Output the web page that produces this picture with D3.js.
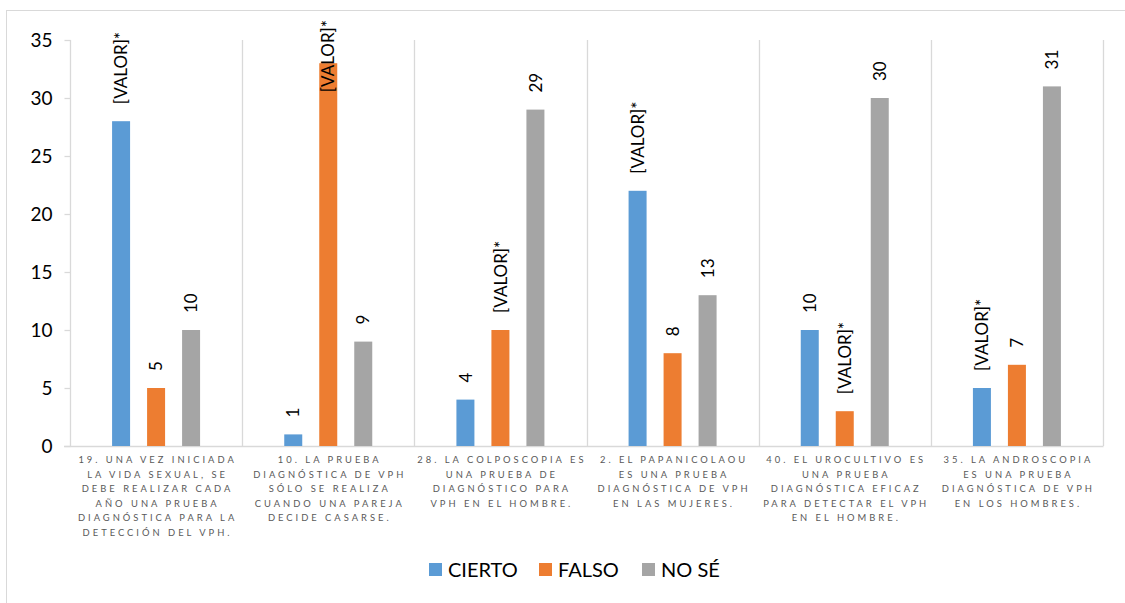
<!DOCTYPE html>
<html>
<head>
<meta charset="utf-8">
<script src="https://cdn.jsdelivr.net/npm/d3@7"></script>
<style>
  html, body { margin: 0; padding: 0; background: #fff; }
  svg { display: block; font-family: "Lato", "Noto Sans", sans-serif; }
</style>
</head>
<body>
<svg id="chart" width="1125" height="603"></svg>
<script>
// ---- DATA ----
const categories = [
  "19. UNA VEZ INICIADA\nLA VIDA SEXUAL, SE\nDEBE REALIZAR CADA\nAÑO UNA PRUEBA\nDIAGNÓSTICA PARA LA\nDETECCIÓN DEL VPH.",
  "10. LA PRUEBA\nDIAGNÓSTICA DE VPH\nSÓLO SE REALIZA\nCUANDO UNA PAREJA\nDECIDE CASARSE.",
  "28. LA COLPOSCOPIA ES\nUNA PRUEBA DE\nDIAGNÓSTICO PARA\nVPH EN EL HOMBRE.",
  "2. EL PAPANICOLAOU\nES UNA PRUEBA\nDIAGNÓSTICA DE VPH\nEN LAS MUJERES.",
  "40. EL UROCULTIVO ES\nUNA PRUEBA\nDIAGNÓSTICA EFICAZ\nPARA DETECTAR EL VPH\nEN EL HOMBRE.",
  "35. LA ANDROSCOPIA\nES UNA PRUEBA\nDIAGNÓSTICA DE VPH\nEN LOS HOMBRES."
];
const seriesNames = ["CIERTO", "FALSO", "NO SÉ"];
const cierto = [28, 1, 4, 22, 10, 5];
const falso  = [5, 33, 10, 8, 3, 7];
const noSe   = [10, 9, 29, 13, 30, 31];
// label text for each series value ("[VALOR]*" marks the correct answer)
const ciertoLabels = ["[VALOR]*", "1", "4", "[VALOR]*", "10", "[VALOR]*"];
const falsoLabels  = ["5", "[VALOR]*", "[VALOR]*", "8", "[VALOR]*", "7"];
const noSeLabels   = ["10", "9", "29", "13", "30", "31"];
const yTicks = [0, 5, 10, 15, 20, 25, 30, 35];
const colors = ["#5B9BD5", "#ED7D31", "#A5A5A5"];

const seriesValues = [cierto, falso, noSe];
const seriesLabels = [ciertoLabels, falsoLabels, noSeLabels];

// ---- LAYOUT ----
const svg = d3.select("#chart");
const plot = { left: 70, right: 1103, top: 40, bottom: 446 };
const grid = "#D9D9D9";

// chart border
svg.append("rect")
  .attr("x", 6.5).attr("y", 10.5)
  .attr("width", 1130).attr("height", 610)
  .attr("fill", "none").attr("stroke", grid).attr("stroke-width", 1);

const x0 = d3.scaleBand().domain(d3.range(categories.length))
  .range([plot.left, plot.right]).padding(0);
const x1 = d3.scalePoint().domain(seriesNames).range([-35, 35]);
const y = d3.scaleLinear().domain([0, 35]).range([plot.bottom, plot.top]);
const barW = 18;

// vertical separators
const seps = d3.range(categories.length + 1).map(i =>
  i < categories.length ? x0(i) : x0(categories.length - 1) + x0.bandwidth());
svg.append("g").selectAll("line").data(seps).join("line")
  .attr("x1", d => Math.round(d) + 0.5).attr("x2", d => Math.round(d) + 0.5)
  .attr("y1", plot.top).attr("y2", plot.bottom)
  .attr("stroke", grid).attr("stroke-width", 1.3);

// y axis
const yAxis = svg.append("g").attr("transform", `translate(${plot.left + 0.5},0)`)
  .call(d3.axisLeft(y).tickValues(yTicks).tickSize(6).tickPadding(12));
yAxis.select(".domain").remove();
yAxis.selectAll(".tick line").attr("stroke", grid).attr("stroke-width", 1.3);
yAxis.selectAll(".tick text")
  .attr("font-family", "Lato, 'Noto Sans', sans-serif")
  .attr("font-size", 19).attr("fill", "#000");

// baseline
svg.append("line")
  .attr("x1", plot.left - 6).attr("x2", plot.right + 0.5)
  .attr("y1", plot.bottom + 0.5).attr("y2", plot.bottom + 0.5)
  .attr("stroke", grid).attr("stroke-width", 1.3);

// bars
const barData = [];
seriesNames.forEach((s, si) => {
  seriesValues[si].forEach((v, ci) => {
    barData.push({ s, si, ci, v, label: seriesLabels[si][ci] });
  });
});

svg.append("g").selectAll("rect").data(barData).join("rect")
  .attr("x", d => x0(d.ci) + x0.bandwidth() / 2 + x1(d.s) - barW / 2)
  .attr("y", d => y(d.v))
  .attr("width", barW)
  .attr("height", d => y(0) - y(d.v))
  .attr("fill", d => colors[d.si]);

// data labels (rotated)
const lblG = svg.append("g");
barData.forEach(d => {
  const cx = x0(d.ci) + x0.bandwidth() / 2 + x1(d.s);
  const g = lblG.append("g");
  const t = g.append("text")
    .attr("font-size", 17)
    .attr("fill", "#000")
    .attr("text-anchor", "start")
    .attr("dy", "0.36em")
    .text(d.label);
  const len = t.node().getComputedTextLength();
  let start = y(d.v) - 17;
  if (start - len < 20) start = 20 + len;
  g.attr("transform", `translate(${cx},${start}) rotate(-90)`);
});

// category labels
const catG = svg.append("g");
categories.forEach((c, i) => {
  const cx = x0(i) + x0.bandwidth() / 2;
  const t = catG.append("text")
    .attr("text-anchor", "middle")
    .attr("font-size", 9.4)
    .attr("letter-spacing", 3.0)
    .attr("fill", "#595959");
  c.split("\n").forEach((line, li) => {
    t.append("tspan")
      .attr("x", cx + 1.5)
      .attr("y", 463 + li * 14.6)
      .text(line);
  });
});

// legend
const legendItems = [
  { name: seriesNames[0], x: 429 },
  { name: seriesNames[1], x: 539 },
  { name: seriesNames[2], x: 642 }
];
const lg = svg.append("g");
legendItems.forEach((it, i) => {
  lg.append("rect").attr("x", it.x).attr("y", 563).attr("width", 13).attr("height", 13)
    .attr("fill", colors[i]);
  lg.append("text").attr("x", it.x + 19).attr("y", 577)
    .attr("font-size", 20).attr("fill", "#000").text(it.name);
});
</script>
</body>
</html>
